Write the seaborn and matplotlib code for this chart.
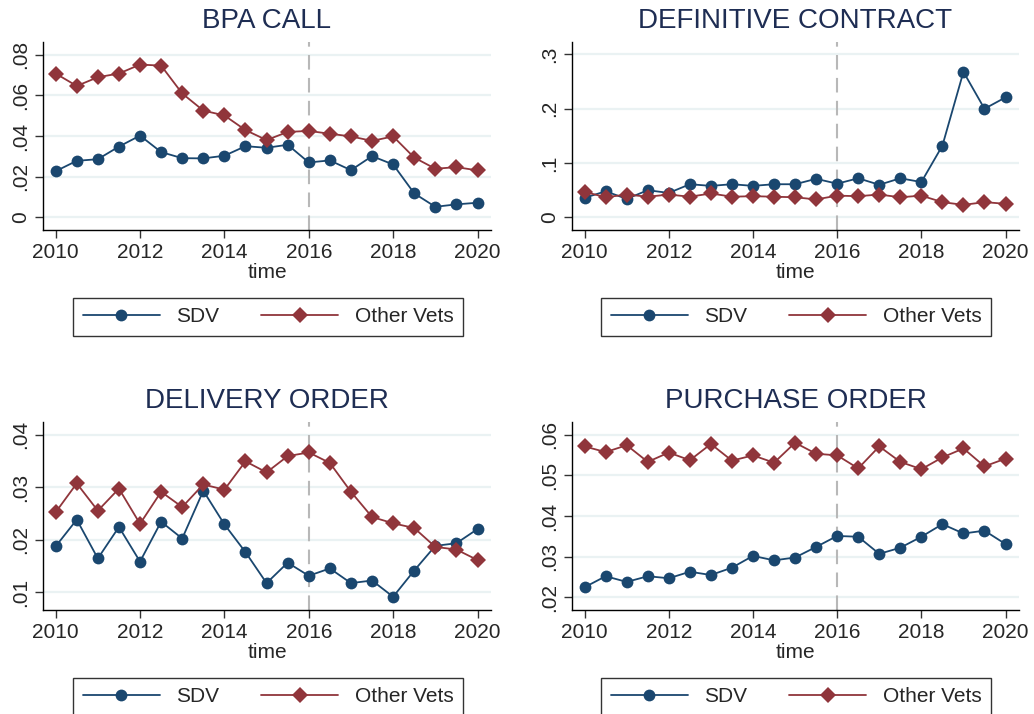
import matplotlib
matplotlib.use("Agg")
import matplotlib.pyplot as plt
from matplotlib.lines import Line2D
from matplotlib.ticker import FixedLocator, FuncFormatter
import pandas as pd
import seaborn as sns

# half-year steps, 2010 to 2020
time = [2010 + 0.5 * i for i in range(21)]

panels = ["BPA CALL", "DEFINITIVE CONTRACT", "DELIVERY ORDER", "PURCHASE ORDER"]
groups = ["SDV", "Other Vets"]

bpa_sdv = [0.0227, 0.0278, 0.0286, 0.0348, 0.0402, 0.0321, 0.0291, 0.0290, 0.0303, 0.0350,
           0.0342, 0.0357, 0.0270, 0.0280, 0.0232, 0.0301, 0.0260, 0.0118, 0.0052, 0.0064, 0.0072]
bpa_other = [0.0707, 0.0646, 0.0689, 0.0707, 0.0751, 0.0746, 0.0609, 0.0525, 0.0501, 0.0429,
             0.0380, 0.0420, 0.0425, 0.0411, 0.0398, 0.0376, 0.0398, 0.0294, 0.0239, 0.0247, 0.0231]

dc_sdv = [0.036, 0.048, 0.034, 0.050, 0.045, 0.061, 0.058, 0.061, 0.058, 0.061,
          0.061, 0.071, 0.062, 0.072, 0.060, 0.072, 0.065, 0.132, 0.268, 0.200, 0.221]
dc_other = [0.047, 0.037, 0.042, 0.038, 0.042, 0.038, 0.044, 0.038, 0.039, 0.038,
            0.037, 0.033, 0.040, 0.039, 0.042, 0.037, 0.040, 0.028, 0.023, 0.028, 0.025]

do_sdv = [0.0187, 0.0238, 0.0164, 0.0224, 0.0158, 0.0234, 0.0202, 0.0293, 0.0229, 0.0176,
          0.0117, 0.0156, 0.0131, 0.0145, 0.0117, 0.0122, 0.0091, 0.0141, 0.0188, 0.0193, 0.0220]
do_other = [0.0252, 0.0307, 0.0255, 0.0297, 0.0230, 0.0291, 0.0262, 0.0305, 0.0295, 0.0349,
            0.0328, 0.0359, 0.0366, 0.0346, 0.0291, 0.0243, 0.0231, 0.0222, 0.0186, 0.0181, 0.0161]

po_sdv = [0.0225, 0.0252, 0.0238, 0.0252, 0.0247, 0.0263, 0.0255, 0.0273, 0.0302, 0.0291,
          0.0298, 0.0324, 0.0351, 0.0349, 0.0307, 0.0322, 0.0349, 0.0380, 0.0357, 0.0364, 0.0331]
po_other = [0.0571, 0.0557, 0.0574, 0.0533, 0.0556, 0.0537, 0.0577, 0.0536, 0.0549, 0.0531,
            0.0580, 0.0553, 0.0549, 0.0517, 0.0571, 0.0533, 0.0515, 0.0544, 0.0566, 0.0522, 0.0541]

y_ticks = [
    [0, 0.02, 0.04, 0.06, 0.08],
    [0, 0.1, 0.2, 0.3],
    [0.01, 0.02, 0.03, 0.04],
    [0.02, 0.03, 0.04, 0.05, 0.06],
]
y_limits = [(-0.0062, 0.0862), (-0.0233, 0.323), (0.00658, 0.0424), (0.0169, 0.0631)]
x_ticks = [2010, 2012, 2014, 2016, 2018, 2020]
policy_year = 2016

series = {
    "BPA CALL": (bpa_sdv, bpa_other),
    "DEFINITIVE CONTRACT": (dc_sdv, dc_other),
    "DELIVERY ORDER": (do_sdv, do_other),
    "PURCHASE ORDER": (po_sdv, po_other),
}

rows = []
for p in panels:
    for g, vals in zip(groups, series[p]):
        for t, v in zip(time, vals):
            rows.append((p, g, t, v))
df = pd.DataFrame(rows, columns=["panel", "group", "time", "value"])

NAVY = "#1a476f"
MAROON = "#90353b"
TITLE_COL = "#1e2d53"
palette = {"SDV": NAVY, "Other Vets": MAROON}
markers = {"SDV": "o", "Other Vets": "D"}

sns.set_theme(style="ticks")
plt.rcParams["font.family"] = ["Liberation Sans", "DejaVu Sans"]


def stata_fmt(v, pos=None):
    if abs(v) < 1e-12:
        return "0"
    s = f"{v:g}"
    return s.replace("0.", ".", 1)


W, H = 1034, 714
fig = plt.figure(figsize=(W / 100, H / 100), dpi=100)

# axes boxes in pixels: left, top, right, bottom
boxes = [(43, 42, 491, 230), (572, 42, 1019, 230),
         (43, 422, 491, 610), (572, 422, 1019, 610)]

for i, p in enumerate(panels):
    l, t, r, b = boxes[i]
    ax = fig.add_axes([l / W, 1 - b / H, (r - l) / W, (b - t) / H])
    ax.set_facecolor("white")
    for yt in y_ticks[i]:
        ax.axhline(yt, color="#eaf2f3", lw=1.6, zorder=0)
    ax.axvline(policy_year, color="#b8b8b8", lw=1.5, dashes=(7, 4), zorder=1)
    sub = df[df["panel"] == p]
    sns.lineplot(data=sub, x="time", y="value", hue="group", style="group",
                 palette=palette, markers=markers, dashes=False, lw=1.3,
                 markersize=8.5, markeredgewidth=0, legend=False, ax=ax, zorder=3)
    ax.set_xlim(2009.7, 2020.32)
    ax.set_ylim(*y_limits[i])
    ax.xaxis.set_major_locator(FixedLocator(x_ticks))
    ax.yaxis.set_major_locator(FixedLocator(y_ticks[i]))
    ax.yaxis.set_major_formatter(FuncFormatter(stata_fmt))
    ax.tick_params(axis="both", labelsize=15, length=6, width=1, color="#333333", pad=3)
    for lbl in ax.get_yticklabels():
        lbl.set_rotation(90)
        lbl.set_va("center")
    ax.set_xlabel("time", fontsize=15, labelpad=1)
    ax.set_ylabel("")
    ax.set_title(p, fontsize=20, color=TITLE_COL, pad=10)
    for s in ["top", "right"]:
        ax.spines[s].set_visible(False)
    for s in ["left", "bottom"]:
        ax.spines[s].set_color("black")
        ax.spines[s].set_linewidth(1)

# one legend under each panel
handles = [
    Line2D([], [], color=NAVY, marker="o", lw=1.3, markersize=8.5, markeredgewidth=0),
    Line2D([], [], color=MAROON, marker="D", lw=1.3, markersize=8.5, markeredgewidth=0),
]
for cy in (317, 697):
    for cx in (268, 796):
        leg = fig.legend(handles, groups, loc="center", ncol=2,
                         bbox_to_anchor=(cx / W, 1 - cy / H),
                         fontsize=15, frameon=True, fancybox=False,
                         edgecolor="black", handlelength=3.7, columnspacing=2.0,
                         handletextpad=0.8, borderpad=0.45, numpoints=1)
        leg.get_frame().set_linewidth(1)

fig.savefig("out.png", dpi=100, facecolor="white")
